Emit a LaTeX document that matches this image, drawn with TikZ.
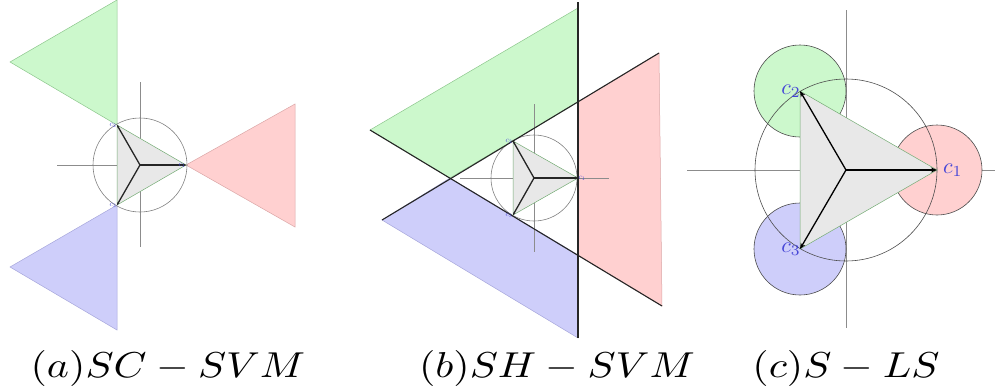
\documentclass[tikz,border=0pt]{standalone}
\usepackage{amsmath,amssymb}
\usepackage{tikz}
\usetikzlibrary{arrows.meta,positioning,calc}
\definecolor{grnCol}{RGB}{204,248,204}
\definecolor{redCol}{RGB}{255,208,208}
\definecolor{bluCol}{RGB}{206,206,250}
\definecolor{coreCol}{RGB}{232,232,232}
\definecolor{lblCol}{RGB}{70,70,215}
\newcommand{\capbox}[1]{\scalebox{4.2}[3.6]{$#1$}}
\newcommand{\ptlab}[2]{\scalebox{#1}{$c_{#2}$}}
\tikzset{
  axis/.style={draw=black!45,line width=0.6pt},
  ring/.style={draw=black!50,line width=0.6pt},
  core/.style={fill=coreCol,draw=green!40!black!55,line width=0.5pt},
  spoke/.style={-{Stealth[length=2.5pt,width=2.5pt]},line width=1.3pt,black!85},
  bigspoke/.style={-{Stealth[length=6pt,width=5pt]},line width=1.3pt,black},
  hyper/.style={draw=black!85,line width=1.1pt},
  greg/.style={fill=grnCol,draw=green!50!black!45,line width=0.5pt},
  rreg/.style={fill=redCol,draw=red!60!black!35,line width=0.5pt},
  breg/.style={fill=bluCol,draw=blue!60!black!35,line width=0.5pt},
  ball/.style={draw=black!70,line width=0.6pt},
  lblsmall/.style={text=lblCol,inner sep=0.5pt},
  lblbig/.style={text=lblCol,inner sep=1pt},
  captext/.style={anchor=base,inner sep=0pt},
}
\begin{document}
\begin{tikzpicture}[x=1pt,y=-1pt]
  \useasboundingbox (0,0) rectangle (995,391);
  % (a) SC-SVM
  \coordinate (oa) at (140,165);
  \coordinate (a1) at (186,165);
  \coordinate (a2) at (117,125);
  \coordinate (a3) at (117,205);
  \draw[axis] (57,165) -- (223,165) (140,82) -- (140,247);
  \filldraw[rreg] (a1) -- (295,104) -- (295,227) -- cycle;
  \filldraw[greg] (a2) -- (117,0) -- (10,62) -- cycle;
  \filldraw[breg] (a3) -- (117,330) -- (10,267) -- cycle;
  \draw[ring] (oa) circle (47pt);
  \filldraw[core] (a1) -- (a2) -- (a3) -- cycle;
  \foreach \i in {1,2,3} \draw[spoke] (oa) -- (a\i);
  \node[lblsmall,left=0pt of a1] (la1) {\ptlab{0.75}{1}};
  \node[lblsmall,left=0pt of a2] (la2) {\ptlab{0.75}{2}};
  \node[lblsmall,left=0pt of a3] (la3) {\ptlab{0.75}{3}};
  \node[captext] (capa) at (168,377) {\capbox{(a)SC-SVM}};

  % (b) SH-SVM
  \coordinate (ob) at (534,178);
  \coordinate (b1) at (578,178);
  \coordinate (b2) at (513,141);
  \coordinate (b3) at (513,215);
  \filldraw[greg] (370,130) -- (578,8) -- (578,102) -- (450,178) -- cycle;
  \filldraw[breg] (382,220) -- (450,178) -- (578,255) -- (578,338) -- cycle;
  \filldraw[rreg] (578,102) -- (659,53) -- (662,306) -- (578,255) -- cycle;
  \draw[axis] (460,178) -- (609,178) (534,104) -- (534,252);
  \draw[ring] (ob) circle (43pt);
  \filldraw[core] (b1) -- (b2) -- (b3) -- cycle;
  \foreach \i in {1,2,3} \draw[spoke] (ob) -- (b\i);
  \draw[hyper] (578,2) -- (578,338);
  \draw[hyper] (382,220) -- (659,53);
  \draw[hyper] (370,130) -- (662,306);
  \node[lblsmall,right=0pt of b1] (lb1) {\ptlab{0.75}{1}};
  \node[lblsmall,left=0pt of b2] (lb2) {\ptlab{0.75}{2}};
  \node[lblsmall,left=0pt of b3] (lb3) {\ptlab{0.75}{3}};
  \node[captext] (capb) at (557,377) {\capbox{(b)SH-SVM}};

  % (c) S-LS
  \coordinate (oc) at (846,170);
  \coordinate (c1) at (937,170);
  \coordinate (c2) at (800,91);
  \coordinate (c3) at (800,249);
  \draw[axis] (687,170) -- (995,170) (846,10) -- (846,328);
  \filldraw[ball,fill=grnCol] (c2) circle (46pt);
  \filldraw[ball,fill=redCol] (c1) circle (45pt);
  \filldraw[ball,fill=bluCol] (c3) circle (46pt);
  \draw[ball] (oc) circle (91pt);
  \filldraw[core] (c1) -- (c2) -- (c3) -- cycle;
  \foreach \i in {1,2,3} \draw[bigspoke] (oc) -- (c\i);
  \node[lblbig,right=5pt of c1] (lc1) {\ptlab{2.2}{1}};
  \node[lblbig,left=-2pt of c2] (lc2) {\ptlab{2.2}{2}};
  \node[lblbig,left=-2pt of c3] (lc3) {\ptlab{2.2}{3}};
  \node[captext] (capc) at (846,377) {\capbox{(c)S-LS}};
\end{tikzpicture}
\end{document}
